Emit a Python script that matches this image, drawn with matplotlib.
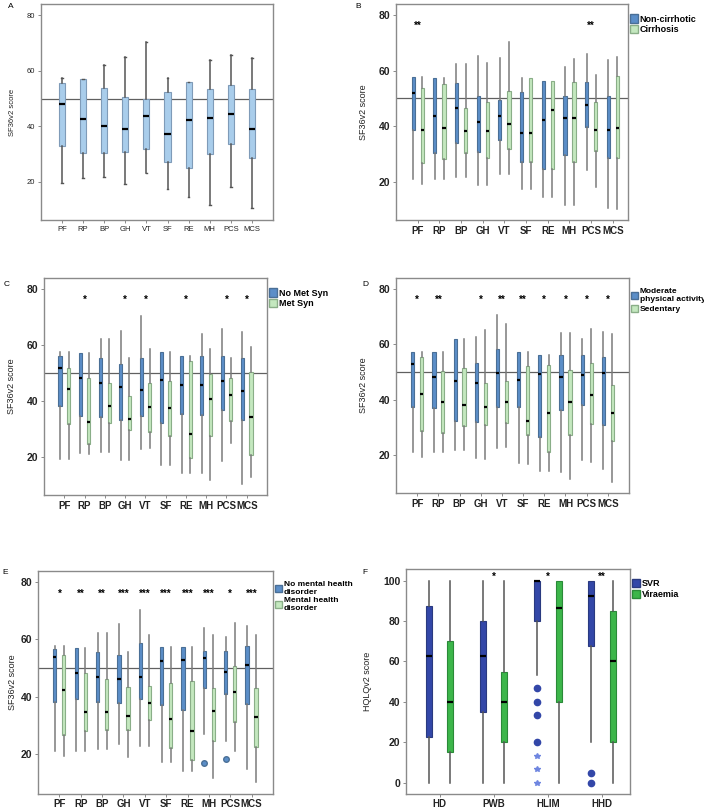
import matplotlib.pyplot as plt
from matplotlib.patches import Patch

plt.rcParams['font.family'] = ['Liberation Sans', 'DejaVu Sans']

sf_labels = ['PF', 'RP', 'BP', 'GH', 'VT', 'SF', 'RE', 'MH', 'PCS', 'MCS']

# each row: min, Q1, median, Q3, max
a_all = [[19.5, 32.9, 48.0, 55.6, 57.5], [21.5, 30.3, 42.6, 57.1, 57.1],
         [21.8, 30.5, 40.2, 53.8, 62.1], [19.2, 30.8, 38.9, 50.6, 64.9],
         [23.1, 31.9, 43.7, 49.7, 70.3], [17.4, 27.2, 37.2, 52.3, 57.3],
         [14.5, 24.9, 42.2, 56.1, 56.1], [11.8, 30.1, 43.1, 53.5, 63.8],
         [18.2, 33.8, 44.6, 54.7, 65.8], [10.5, 28.6, 39.1, 53.5, 64.6]]

b_noncirr = [[21.1, 38.6, 51.9, 57.6, 57.6], [21.1, 30.2, 43.7, 57.2, 57.2],
             [21.7, 34.1, 46.4, 55.7, 62.3], [18.7, 30.8, 41.5, 50.8, 65.3],
             [22.7, 35.0, 43.7, 49.6, 64.7], [17.2, 27.2, 37.4, 52.4, 57.5],
             [14.5, 24.7, 42.3, 56.3, 56.3], [11.6, 29.8, 43.0, 51.0, 61.4],
             [24.1, 39.8, 47.5, 56.0, 65.9], [10.6, 28.5, 38.6, 50.7, 63.8]]
b_cirr = [[19.1, 26.9, 38.6, 53.6, 57.6], [21.1, 28.1, 39.2, 55.1, 57.2],
          [21.7, 30.5, 38.3, 46.6, 62.3], [18.7, 28.6, 38.1, 48.6, 62.9],
          [22.9, 31.7, 40.7, 52.6, 70.4], [17.2, 27.2, 37.4, 57.3, 57.3],
          [14.5, 24.7, 45.8, 56.3, 56.3], [11.6, 27.2, 43.0, 56.1, 64.1],
          [18.0, 31.1, 38.7, 48.7, 58.4], [10.3, 28.7, 39.2, 58.2, 64.8]]
b_sig = ['**', '', '', '', '', '', '', '', '**', '']

c_nomets = [[19.0, 38.2, 51.7, 55.9, 57.3], [21.2, 34.6, 48.1, 57.0, 57.0],
            [21.6, 34.2, 46.3, 55.4, 62.0], [18.8, 33.2, 45.1, 53.0, 65.0],
            [22.8, 34.6, 43.8, 55.4, 70.4], [17.1, 32.1, 47.4, 57.3, 57.3],
            [14.2, 35.4, 45.7, 56.0, 56.0], [14.0, 35.0, 45.6, 56.0, 63.9],
            [18.4, 36.7, 47.0, 55.9, 65.6], [10.3, 33.1, 43.5, 55.2, 64.5]]
c_mets = [[19.0, 31.6, 44.1, 51.7, 57.4], [21.0, 24.6, 32.5, 48.0, 57.0],
          [21.6, 32.2, 38.1, 46.2, 62.0], [18.8, 29.6, 33.3, 41.8, 55.5],
          [23.0, 28.9, 37.6, 46.5, 58.4], [17.1, 27.2, 37.3, 47.2, 57.3],
          [14.2, 19.6, 28.2, 54.4, 56.2], [11.6, 27.2, 40.5, 49.5, 58.6],
          [24.9, 32.7, 42.2, 48.0, 55.3], [12.6, 20.7, 34.3, 50.2, 59.2]]
c_sig = ['', '*', '', '*', '*', '', '*', '', '*', '*']

d_active = [[21.0, 37.2, 52.8, 57.4, 57.4], [21.0, 36.8, 48.1, 57.1, 57.1],
            [21.6, 32.2, 46.6, 62.0, 62.0], [18.8, 31.8, 45.9, 53.1, 62.8],
            [22.4, 37.5, 49.6, 58.4, 70.5], [17.0, 37.2, 47.2, 57.3, 57.3],
            [14.1, 26.5, 49.2, 56.1, 56.1], [13.9, 36.3, 48.2, 56.0, 64.0],
            [18.2, 38.0, 48.9, 56.0, 62.0], [14.8, 30.9, 49.8, 55.3, 64.5]]
d_sedentary = [[19.2, 28.6, 42.0, 55.5, 57.4], [21.0, 27.9, 39.2, 50.2, 57.1],
               [21.6, 30.4, 38.0, 51.3, 62.0], [18.6, 30.7, 37.2, 45.9, 65.1],
               [22.8, 31.6, 39.2, 46.6, 67.5], [16.8, 27.1, 32.1, 52.2, 57.3],
               [14.1, 21.1, 35.1, 52.5, 56.1], [11.4, 27.1, 39.1, 50.8, 64.0],
               [17.6, 31.0, 41.6, 53.2, 65.7], [10.2, 25.0, 35.2, 45.4, 63.6]]
d_sig = ['*', '**', '', '*', '**', '**', '*', '*', '*', '*']

e_nomhd = [[21.0, 38.3, 53.8, 56.7, 57.6], [21.1, 39.2, 48.2, 57.1, 57.1],
           [21.6, 38.2, 46.7, 55.6, 62.2], [23.6, 37.8, 46.1, 54.4, 65.3],
           [22.8, 39.2, 46.7, 58.6, 70.4], [17.2, 37.2, 52.4, 57.3, 57.3],
           [14.2, 35.3, 52.8, 57.3, 57.3], [27.1, 43.0, 53.4, 56.0, 64.0],
           [24.7, 41.1, 48.7, 55.8, 60.7], [14.9, 37.6, 50.9, 57.7, 64.6]]
e_mhd = [[19.2, 26.8, 42.3, 54.7, 57.6], [21.1, 27.9, 34.6, 48.2, 57.1],
         [21.6, 28.3, 34.5, 46.2, 62.2], [18.9, 28.4, 33.3, 43.5, 55.6],
         [22.8, 31.8, 37.7, 43.6, 61.6], [17.2, 22.1, 32.2, 44.7, 57.3],
         [14.2, 17.8, 28.1, 45.6, 57.3], [11.5, 24.7, 35.1, 43.0, 61.5],
         [21.2, 31.0, 41.6, 50.6, 65.8], [10.4, 22.4, 32.9, 43.0, 61.5]]
e_sig = ['*', '**', '**', '***', '***', '***', '***', '***', '*', '***']
e_out_cat = [7, 8]          # MH, PCS (no mental health disorder group)
e_out_val = [16.9, 18.1]

hq_labels = ['HD', 'PWB', 'HLIM', 'HHD']
f_svr = [[0, 22.7, 62.5, 87.5, 100], [0, 35.0, 62.5, 80.0, 100],
         [53.3, 80.0, 100, 100, 100], [20.0, 67.5, 92.5, 100, 100]]
f_viraemia = [[0, 15.0, 40.0, 70.0, 100], [0, 20.0, 40.0, 55.0, 100],
              [0, 40.0, 86.7, 100, 100], [0, 20.0, 60.0, 85.0, 100]]
f_sig = ['', '*', '*', '**']
f_out_cat = [2, 2, 2, 2, 3, 3]
f_out_val = [46.7, 40.0, 33.3, 20.0, 5.0, 0.0]
f_ext_cat = [2, 2, 2]
f_ext_val = [13.3, 6.7, 0.0]

blue = '#5b8ec8'
green = '#c4e8bf'
light_blue = '#a9cdeb'
svr_blue = '#3347a8'
vir_green = '#3cb64a'
frame_col = '#8a8a8a'


def to_stats(rows):
    return [dict(whislo=r[0], q1=r[1], med=r[2], q3=r[3], whishi=r[4], fliers=[])
            for r in rows]


def draw_boxes(ax, rows, pos, color, width, edge, caps=0.0, wcol='#7a7a7a'):
    ax.bxp(to_stats(rows), positions=pos, widths=width, patch_artist=True,
           showfliers=False, showcaps=caps > 0, capwidths=caps if caps > 0 else None,
           boxprops=dict(facecolor=color, edgecolor=edge, linewidth=0.8),
           medianprops=dict(color='black', linewidth=1.6),
           whiskerprops=dict(color=wcol, linewidth=1.1),
           capprops=dict(color=wcol, linewidth=1.0))


def style(ax, labels, ylim, xlim, ylabel, bold=True, fs=7, lpad=8):
    ax.set_xlim(*xlim)
    ax.set_ylim(*ylim)
    ax.set_xticks(range(1, len(labels) + 1))
    w = 'bold' if bold else 'normal'
    ax.set_xticklabels(labels, fontsize=fs, fontweight=w, color='#222222')
    for t in ax.get_yticklabels():
        t.set_fontsize(fs + 0.5 if bold else fs)
        t.set_fontweight(w)
        t.set_color('#222222')
    ax.set_ylabel(ylabel, fontsize=6.5 if bold else 5.5, color='#222222', labelpad=lpad)
    ax.tick_params(length=2.5, width=0.7, color=frame_col, pad=1.5)
    for s in ax.spines.values():
        s.set_color(frame_col)
        s.set_linewidth(1.0)


def two_group(ax, g1, g2, c1, c2, sig, names, xlim, lpad=8, lfs=6.5):
    n = len(g1)
    p1 = [i + 1 - 0.21 for i in range(n)]
    p2 = [i + 1 + 0.21 for i in range(n)]
    ax.axhline(50, color='#606060', linewidth=0.9, zorder=0)
    draw_boxes(ax, g1, p1, c1, 0.15, '#4a6f96')
    draw_boxes(ax, g2, p2, c2, 0.15, '#8aae88')
    for i, s in enumerate(sig):
        if s:
            ax.text(i + 1, 76, s, ha='center', va='center', fontsize=7, fontweight='bold')
    ax.set_yticks([20, 40, 60, 80])
    style(ax, sf_labels, (6.2, 84), xlim, 'SF36v2 score', lpad=lpad)
    handles = [Patch(facecolor=c1, edgecolor='#4a6f96'), Patch(facecolor=c2, edgecolor='#8aae88')]
    ax.legend(handles, names, loc='upper left', bbox_to_anchor=(1.0, 0.96), frameon=False,
              prop=dict(size=lfs, weight='bold'), handlelength=0.9, handleheight=1.0,
              handletextpad=0.2, labelspacing=0.15, borderpad=0.1, borderaxespad=0.1)
    return p1


fig = plt.figure(figsize=(7.04, 8.11), dpi=100)

# A
axA = fig.add_axes([0.0582, 0.7287, 0.3295, 0.2663])
axA.axhline(50, color='#606060', linewidth=0.9, zorder=0)
draw_boxes(axA, a_all, list(range(1, 11)), light_blue, 0.29, '#7f9bb8', caps=0.08, wcol='#555555')
axA.set_yticks([20, 40, 60, 80])
style(axA, sf_labels, (6.3, 84), (0, 11), 'SF36v2 score', bold=False, fs=5.5)

# B
axB = fig.add_axes([0.5625, 0.7287, 0.3295, 0.2663])
two_group(axB, b_noncirr, b_cirr, blue, green, b_sig, ['Non-cirrhotic', 'Cirrhosis'], (0, 10.7))

# C
axC = fig.add_axes([0.0625, 0.3896, 0.3168, 0.2676])
two_group(axC, c_nomets, c_mets, blue, green, c_sig, ['No Met Syn', 'Met Syn'], (0, 11))

# D
axD = fig.add_axes([0.5625, 0.3921, 0.3310, 0.2651])
two_group(axD, d_active, d_sedentary, blue, green, d_sig,
          ['Moderate\nphysical activity', 'Sedentary'], (0, 11), lfs=6)

# E
axE = fig.add_axes([0.0540, 0.0215, 0.3337, 0.2750])
pE = two_group(axE, e_nomhd, e_mhd, blue, green, e_sig,
               ['No mental health\ndisorder', 'Mental health\ndisorder'], (0, 11), lpad=3, lfs=6)
axE.plot([pE[i] for i in e_out_cat], e_out_val, 'o', color=blue, markeredgecolor='#4a6f96',
         markersize=4, zorder=5)

# F
axF = fig.add_axes([0.5767, 0.0215, 0.3182, 0.2775])
pf1 = [i + 1 - 0.2 for i in range(4)]
pf2 = [i + 1 + 0.2 for i in range(4)]
draw_boxes(axF, f_svr, pf1, svr_blue, 0.11, '#2a3a80', wcol='#555555')
draw_boxes(axF, f_viraemia, pf2, vir_green, 0.11, '#2a8a38', wcol='#555555')
axF.plot([pf1[i] for i in f_out_cat], f_out_val, 'o', color=svr_blue, markersize=4.5, zorder=5)
axF.plot([pf1[i] for i in f_ext_cat], f_ext_val, '*', color='#6f86e0', markersize=4, zorder=5)
for i, s in enumerate(f_sig):
    if s:
        axF.text(i + 1, 102, s, ha='center', va='center', fontsize=7, fontweight='bold')
axF.set_yticks([0, 20, 40, 60, 80, 100])
style(axF, hq_labels, (-5.4, 106), (0.38, 4.52), 'HQLQv2 score')
axF.legend([Patch(facecolor=svr_blue, edgecolor='#2a3a80'), Patch(facecolor=vir_green, edgecolor='#2a8a38')],
           ['SVR', 'Viraemia'], loc='upper left', bbox_to_anchor=(1.0, 0.96), frameon=False,
           prop=dict(size=6.5, weight='bold'), handlelength=0.9, handleheight=1.0,
           handletextpad=0.2, labelspacing=0.15, borderpad=0.1, borderaxespad=0.1)

# panel letters
for x, y, s in [(8, 6, 'A'), (355, 6, 'B'), (4, 284, 'C'), (362, 284, 'D'), (2, 573, 'E'), (362, 573, 'F')]:
    fig.text(x / 704, 1 - y / 811, s, fontsize=6, va='center', ha='left')

fig.savefig('out.png', dpi=100)
